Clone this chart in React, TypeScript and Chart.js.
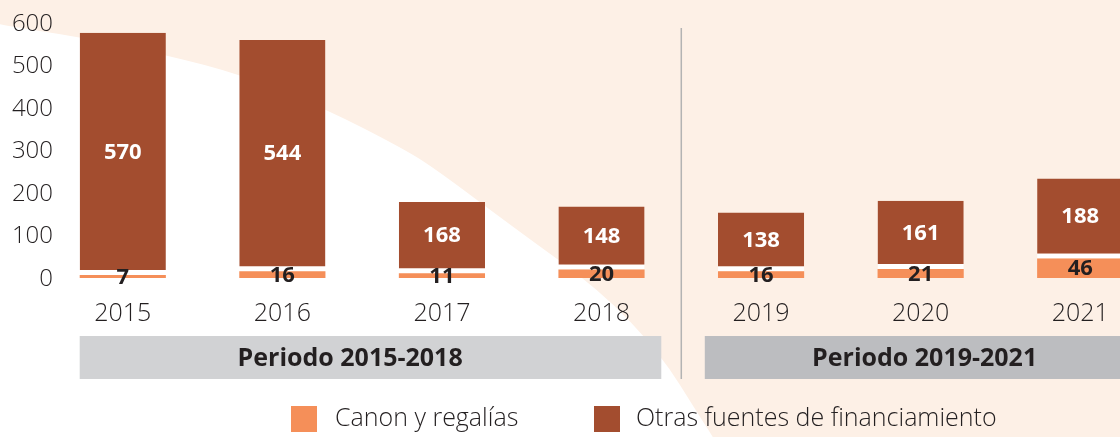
import React, { useEffect, useRef } from "react";
import { Chart, registerables } from "chart.js";

Chart.register(...registerables);

// ---- data ----
const years = ["2015", "2016", "2017", "2018", "2019", "2020", "2021"];
const canon = [7, 16, 11, 20, 16, 21, 46];
const otras = [570, 544, 168, 148, 138, 161, 188];
const yTicks = [0, 100, 200, 300, 400, 500, 600];
const periods = ["Periodo 2015-2018", "Periodo 2019-2021"];
const seriesNames = ["Canon y regalías", "Otras fuentes de financiamiento"];

// ---- style ----
const C_CANON = "#f58f59";
const C_OTRAS = "#a34d2f";
const C_PEACH = "#fdf0e6";
const C_TEXT = "#231f20";
const C_BOX_L = "#d1d2d4";
const C_BOX_R = "#bcbdc0";
const FONT = "'Open Sans', 'Noto Sans', sans-serif";

// decorative background curve (white area over peach)
const curve: [number, number][] = [
  [-10, 22], [0, 25], [80, 37], [166, 55], [243, 75], [328, 110], [400, 147],
  [433, 167], [513, 227], [600, 290], [660, 353], [700, 417], [713, 437], [720, 450],
];

const bgPlugin = {
  id: "bgPlugin",
  beforeDraw(chart: any) {
    const ctx = chart.ctx;
    ctx.save();
    ctx.fillStyle = C_PEACH;
    ctx.fillRect(0, 0, chart.width, chart.height);
    ctx.fillStyle = "#ffffff";
    ctx.beginPath();
    ctx.moveTo(curve[0][0], curve[0][1]);
    for (let i = 1; i < curve.length - 1; i++) {
      const mx = (curve[i][0] + curve[i + 1][0]) / 2;
      const my = (curve[i][1] + curve[i + 1][1]) / 2;
      ctx.quadraticCurveTo(curve[i][0], curve[i][1], mx, my);
    }
    const last = curve[curve.length - 1];
    ctx.lineTo(last[0], last[1]);
    ctx.lineTo(-10, 460);
    ctx.closePath();
    ctx.fill();
    ctx.restore();
  },
};

const overlayPlugin = {
  id: "overlayPlugin",
  afterDraw(chart: any) {
    const ctx = chart.ctx;
    const xs = chart.scales.x;
    const ys = chart.scales.y;
    const metaC = chart.getDatasetMeta(0);
    const metaO = chart.getDatasetMeta(1);
    ctx.save();

    // y tick labels
    ctx.textAlign = "right";
    ctx.textBaseline = "middle";
    ctx.fillStyle = C_TEXT;
    ctx.font = `300 24px ${FONT}`;
    yTicks.forEach((v) => {
      ctx.fillText(String(v), 53, ys.getPixelForValue(v) + 1);
    });

    // data labels
    ctx.textAlign = "center";
    ctx.textBaseline = "middle";
    metaO.data.forEach((bar: any, i: number) => {
      const top = bar.y;
      const bottom = bar.base - 5;
      ctx.fillStyle = "#ffffff";
      ctx.font = `700 22px ${FONT}`;
      ctx.fillText(String(otras[i]), bar.x, (top + bottom) / 2 + 1);
    });
    metaC.data.forEach((bar: any, i: number) => {
      const c = (bar.y + bar.base) / 2;
      ctx.fillStyle = C_TEXT;
      ctx.font = `700 22px ${FONT}`;
      ctx.fillText(String(canon[i]), bar.x, c + 1);
    });

    // separator and period boxes
    const x0 = xs.getPixelForValue(0);
    const x3 = xs.getPixelForValue(3);
    const x4 = xs.getPixelForValue(4);
    const x6 = xs.getPixelForValue(6);
    const barW = metaO.data[0].width;
    const sep = (x3 + x4) / 2;

    ctx.strokeStyle = "#b3b3b3";
    ctx.lineWidth = 1.5;
    ctx.beginPath();
    ctx.moveTo(sep, 28);
    ctx.lineTo(sep, 379);
    ctx.stroke();

    const boxTop = 336;
    const boxH = 43;
    ctx.fillStyle = C_BOX_L;
    ctx.fillRect(x0 - barW / 2, boxTop, sep - 20 - (x0 - barW / 2), boxH);
    ctx.fillStyle = C_BOX_R;
    ctx.fillRect(sep + 23.5, boxTop, chart.width - (sep + 23.5), boxH);

    ctx.fillStyle = C_TEXT;
    ctx.font = `700 25px ${FONT}`;
    ctx.fillText(periods[0], (x0 + x3) / 2 - 12, boxTop + boxH / 2 + 1);
    ctx.fillText(periods[1], (x4 + x6) / 2 + 4, boxTop + boxH / 2 + 1);

    // legend
    ctx.textAlign = "left";
    ctx.font = `300 25px ${FONT}`;
    ctx.fillStyle = C_CANON;
    ctx.fillRect(291, 406, 26, 26);
    ctx.fillStyle = C_TEXT;
    ctx.fillText(seriesNames[0], 335, 419);
    ctx.fillStyle = C_OTRAS;
    ctx.fillRect(594, 406, 26, 26);
    ctx.fillStyle = C_TEXT;
    ctx.fillText(seriesNames[1], 636, 419);

    ctx.restore();
  },
};

export default function App() {
  const ref = useRef<HTMLCanvasElement | null>(null);

  useEffect(() => {
    if (!ref.current) return;
    const chart = new Chart(ref.current, {
      type: "bar",
      data: {
        labels: years,
        datasets: [
          {
            label: seriesNames[0],
            data: canon,
            backgroundColor: C_CANON,
            borderWidth: 0,
            barPercentage: 0.54,
            categoryPercentage: 1,
          },
          {
            label: seriesNames[1],
            data: otras,
            backgroundColor: C_OTRAS,
            borderColor: "#ffffff",
            borderWidth: { top: 0, left: 0, right: 0, bottom: 5 },
            borderSkipped: false,
            barPercentage: 0.54,
            categoryPercentage: 1,
          },
        ],
      },
      options: {
        responsive: false,
        animation: false,
        devicePixelRatio: 1,
        layout: { padding: { top: 23, left: 0, right: 0, bottom: 0 } },
        plugins: {
          legend: { display: false },
          tooltip: { enabled: false },
        },
        scales: {
          x: {
            stacked: true,
            grid: { display: false, drawTicks: false },
            border: { display: false },
            ticks: {
              color: C_TEXT,
              font: { family: FONT, size: 25, weight: "300" },
              padding: 21,
              maxRotation: 0,
              autoSkip: false,
            },
            afterFit: (s: any) => {
              s.height = 159;
            },
          },
          y: {
            stacked: true,
            min: 0,
            max: 600,
            afterBuildTicks: (s: any) => {
              s.ticks = yTicks.map((v) => ({ value: v }));
            },
            grid: { display: false, drawTicks: false },
            border: { display: false },
            ticks: { display: false },
            afterFit: (s: any) => {
              s.width = 43;
            },
          },
        },
      },
      plugins: [bgPlugin, overlayPlugin],
    } as any);
    return () => chart.destroy();
  }, []);

  return (
    <div
      style={{
        position: "fixed",
        left: 0,
        top: 0,
        width: 1120,
        height: 437,
        overflow: "hidden",
        background: "#ffffff",
      }}
    >
      <canvas ref={ref} width={1160} height={437} style={{ display: "block" }} />
    </div>
  );
}
